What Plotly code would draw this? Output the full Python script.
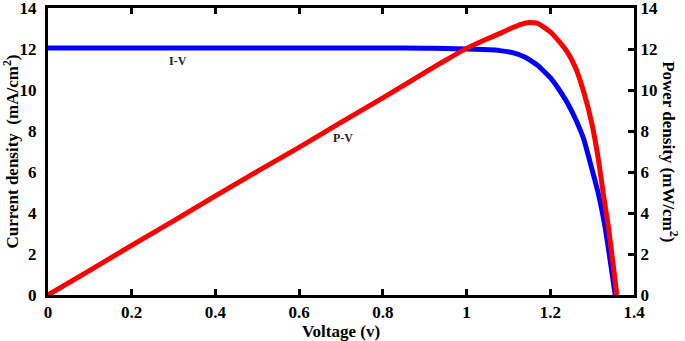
import plotly.graph_objects as go

# I-V data (Voltage in V, current density in mA/cm^2)
iv_voltage = [0, 0.1, 0.2, 0.3, 0.4, 0.5, 0.6, 0.7, 0.8, 0.9, 0.95, 1.0, 1.04, 1.08,
              1.11, 1.14, 1.17, 1.2, 1.22, 1.24, 1.26, 1.28, 1.3, 1.315, 1.331, 1.343, 1.355]
iv_current = [12.05, 12.05, 12.05, 12.05, 12.05, 12.05, 12.05, 12.05, 12.05, 12.04, 12.03,
              12.0, 11.97, 11.92, 11.82, 11.6, 11.2, 10.6, 10.05, 9.4, 8.6, 7.6, 6.1, 4.93,
              3.3, 1.7, 0.0]

# P-V data (Voltage in V, power density in mW/cm^2)
pv_voltage = [0, 0.1, 0.2, 0.3, 0.4, 0.5, 0.6, 0.7, 0.8, 0.9, 0.95, 1.0, 1.05, 1.08, 1.1,
              1.13, 1.15, 1.17, 1.2, 1.22, 1.24, 1.26, 1.28, 1.3, 1.315, 1.327, 1.339, 1.349, 1.359]
pv_power = [0, 1.2, 2.42, 3.62, 4.84, 6.03, 7.2, 8.42, 9.62, 10.85, 11.45, 12.03, 12.5, 12.76,
            12.95, 13.2, 13.29, 13.25, 12.84, 12.4, 11.87, 11.1, 9.9, 8.3, 6.6, 4.9, 3.3, 1.7, 0.0]

x_ticks = [0, 0.2, 0.4, 0.6, 0.8, 1.0, 1.2, 1.4]
x_ticktext = ["0", "0.2", "0.4", "0.6", "0.8", "1", "1.2", "1.4"]
y_ticks = [0, 2, 4, 6, 8, 10, 12, 14]

FONT = "Liberation Serif"
TICKFONT = dict(family=FONT, size=17, color="black", weight="bold")

fig = go.Figure()
fig.add_trace(go.Scatter(x=iv_voltage, y=iv_current, mode="lines", name="I-V",
                         line=dict(color="#0000ff", width=5, shape="spline", smoothing=0.4)))
fig.add_trace(go.Scatter(x=pv_voltage, y=pv_power, mode="lines", name="P-V", yaxis="y2",
                         line=dict(color="#ff0000", width=5, shape="spline", smoothing=0.4)))

fig.add_annotation(x=0.31, y=11.4, text="<b>I-V</b>", showarrow=False,
                   font=dict(family=FONT, size=12, color="#222"))
fig.add_annotation(x=0.705, y=7.65, text="<b>P-V</b>", showarrow=False,
                   font=dict(family=FONT, size=12, color="#222"))
fig.add_annotation(xref="paper", yref="paper", x=1.062, y=0.5, xanchor="center", yanchor="middle",
                   text="<b>Power density (mW/cm<sup>2</sup>)</b>", textangle=90, showarrow=False,
                   font=dict(family=FONT, size=17, color="black"))

fig.update_layout(
    width=685, height=341,
    margin=dict(l=48, r=51, t=8, b=46),
    paper_bgcolor="white", plot_bgcolor="white",
    showlegend=False,
    font=dict(family=FONT, color="black"),
    xaxis=dict(range=[0, 1.4], tickvals=x_ticks, ticktext=x_ticktext, automargin=False,
               ticks="inside", ticklen=6, tickwidth=3, tickcolor="black",
               showline=True, linewidth=3, linecolor="black", mirror="ticks",
               showgrid=False, zeroline=False, tickfont=TICKFONT, ticklabeloverflow="allow",
               title=dict(text="<b>Voltage (v)</b>", standoff=0,
                          font=dict(family=FONT, size=17, color="black"))),
    yaxis=dict(range=[0, 14], tickvals=y_ticks, ticks="", automargin=False,
               showline=True, linewidth=3, linecolor="black",
               showgrid=False, zeroline=False, tickfont=TICKFONT, ticklabelstandoff=5,
               ticklabeloverflow="allow",
               title=dict(text="<b>Current density  (mA/cm<sup>2</sup>)</b>", standoff=2,
                          font=dict(family=FONT, size=17, color="black"))),
    yaxis2=dict(range=[0, 14], tickvals=y_ticks, overlaying="y", side="right", automargin=False,
                ticks="inside", ticklen=6, tickwidth=3, tickcolor="black",
                showline=True, linewidth=3, linecolor="black", ticklabeloverflow="allow",
                showgrid=False, zeroline=False, tickfont=TICKFONT),
)

fig.write_html("out.html", config={"displayModeBar": False},
               post_script="document.body.style.margin='0';")
